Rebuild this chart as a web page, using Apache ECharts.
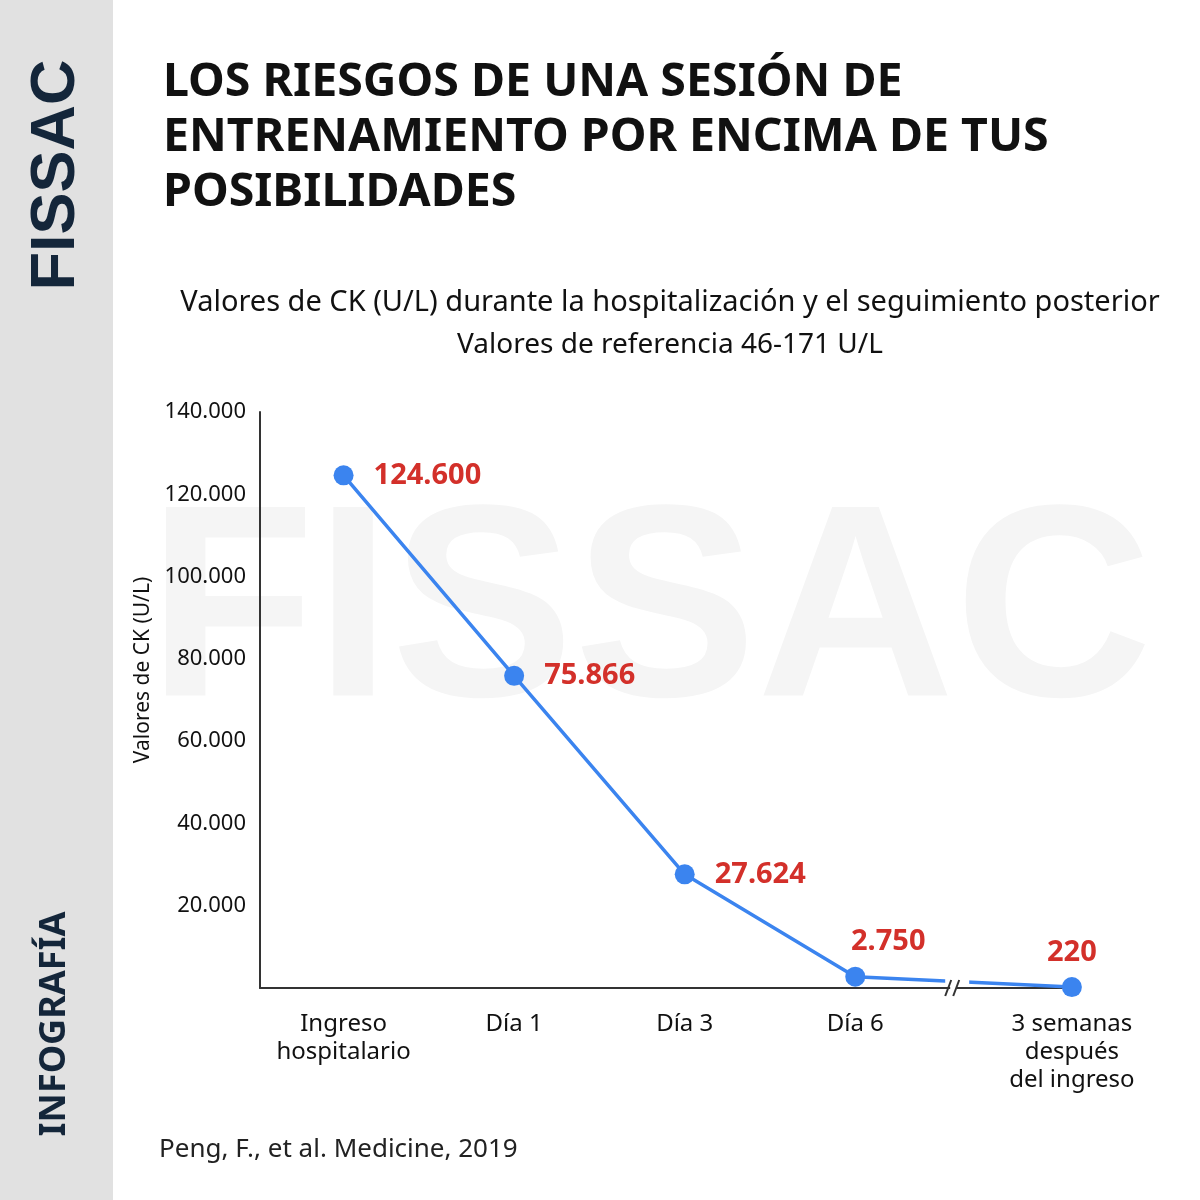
<!DOCTYPE html>
<html>
<head>
<meta charset="utf-8">
<script src="https://cdn.jsdelivr.net/npm/echarts@6/dist/echarts.min.js"></script>
<style>
  html, body { margin: 0; padding: 0; background: #fff; }
  #main { width: 1200px; height: 1200px; }
</style>
</head>
<body>
<div id="main"></div>
<script>
// datos
var categorias = ['Ingreso\nhospitalario', 'Día 1', 'Día 3', 'Día 6', '3 semanas\ndespués\ndel ingreso'];
var posiciones = [0, 1, 2, 3, 4.27];   // hueco extra antes de la última (eje cortado)
var valoresCK = [124600, 75866, 27624, 2750, 220];
var ticksY = [20000, 40000, 60000, 80000, 100000, 120000, 140000];
var posCorte = 3.58;

function miles(v) {
    return String(Math.round(v)).replace(/\B(?=(\d{3})+(?!\d))/g, '.');
}

var myChart = echarts.init(document.getElementById('main'));

var puntos = valoresCK.map(function (v, i) {
    var lab = { position: i < 3 ? 'right' : 'top', distance: i < 3 ? 20 : 10 };
    if (i === 3) lab.offset = [33, 0];
    return { value: [posiciones[i], v], label: lab };
});

var option = {
    animation: false,
    title: [{
        text: 'LOS RIESGOS DE UNA SESIÓN DE\nENTRENAMIENTO POR ENCIMA DE TUS\nPOSIBILIDADES',
        left: 158, top: 50,
        textStyle: { fontFamily: 'Noto Sans', fontWeight: 'bold', fontSize: 46.5, lineHeight: 55, color: '#111' }
    }, {
        text: 'Valores de CK (U/L) durante la hospitalización y el seguimiento posterior',
        left: 665, top: 283, textAlign: 'center',
        textStyle: { fontFamily: 'Noto Sans', fontWeight: 'normal', fontSize: 29, color: '#111' }
    }, {
        text: 'Valores de referencia 46-171 U/L',
        left: 665, top: 326, textAlign: 'center',
        textStyle: { fontFamily: 'Noto Sans', fontWeight: 'normal', fontSize: 28, color: '#111' }
    }],
    grid: { left: 260, right: 123, top: 412, bottom: 212, containLabel: false },
    xAxis: {
        type: 'value',
        min: -0.49, max: 4.3,
        splitLine: { show: false },
        axisTick: { show: false },
        axisLine: { show: true, onZero: false, lineStyle: { color: '#333', width: 2 } },
        axisLabel: {
            customValues: posiciones,
            margin: 22,
            fontFamily: 'Noto Sans', fontSize: 24, lineHeight: 28, color: '#111',
            formatter: function (v) {
                var i = posiciones.indexOf(v);
                return i >= 0 ? categorias[i] : '';
            }
        }
    },
    yAxis: {
        type: 'value',
        min: 0, max: 140000, interval: 20000,
        splitLine: { show: false },
        axisTick: { show: false },
        axisLine: { show: true, onZero: false, lineStyle: { color: '#333', width: 2 } },
        axisLabel: {
            margin: 14,
            fontFamily: 'Noto Sans', fontSize: 22, color: '#111',
            formatter: function (v) { return ticksY.indexOf(v) >= 0 ? miles(v) : ''; }
        }
    },
    series: [{
        type: 'line',
        data: puntos,
        symbol: 'circle', symbolSize: 20,
        lineStyle: { color: '#3b84ef', width: 3.5 },
        itemStyle: { color: '#3b84ef' },
        label: {
            show: true,
            fontFamily: 'Noto Sans', fontWeight: 'bold', fontSize: 29, color: '#d3302a',
            formatter: function (p) { return miles(p.value[1]); }
        },
        z: 5
    }, {
        // marca de corte "//" sobre el eje x y la línea
        type: 'custom',
        silent: true,
        z: 10,
        data: [[posCorte, 0]],
        renderItem: function (params, api) {
            var p = api.coord([api.value(0), api.value(1)]);
            var bx = p[0], by = p[1];
            return {
                type: 'group',
                children: [{
                    type: 'rect', shape: { x: bx - 9, y: by - 22, width: 24, height: 19 },
                    style: { fill: '#fff' }
                }, {
                    type: 'rect', shape: { x: bx - 4, y: by - 3, width: 6, height: 6 },
                    style: { fill: '#fff' }
                }, {
                    type: 'line', shape: { x1: bx - 9, y1: by + 8, x2: bx - 3, y2: by - 8 },
                    style: { stroke: '#333', lineWidth: 2 }
                }, {
                    type: 'line', shape: { x1: bx - 1, y1: by + 8, x2: bx + 5, y2: by - 8 },
                    style: { stroke: '#333', lineWidth: 2 }
                }]
            };
        }
    }],
    graphic: {
        elements: [{
            id: 'banda', type: 'rect', silent: true, z: -10,
            shape: { x: 0, y: 0, width: 113, height: 1200 },
            style: { fill: '#e1e1e1' }
        }, {
            id: 'marca', type: 'text', silent: true, z: -10,
            x: 650, y: 620,
            style: {
                text: 'FISSAC', fill: '#f5f5f5',
                fontFamily: 'Liberation Sans', fontWeight: 'bold', fontSize: 274,
                align: 'center', verticalAlign: 'middle'
            }
        }, {
            id: 'logo', type: 'text', silent: true,
            x: 57, y: 175, rotation: Math.PI / 2,
            style: {
                text: 'FISSAC', fill: '#14263a',
                fontFamily: 'Liberation Sans', fontWeight: 'bold', fontSize: 63,
                align: 'center', verticalAlign: 'middle'
            }
        }, {
            id: 'info', type: 'text', silent: true,
            x: 55, y: 1024, rotation: Math.PI / 2,
            style: {
                text: 'INFOGRAFÍA', fill: '#14263a',
                fontFamily: 'Noto Sans', fontWeight: 'bold', fontSize: 36,
                align: 'center', verticalAlign: 'middle'
            }
        }, {
            id: 'ejeY', type: 'text', silent: true,
            x: 143, y: 670, rotation: Math.PI / 2,
            style: {
                text: 'Valores de CK (U/L)', fill: '#111',
                fontFamily: 'Noto Sans', fontWeight: 'normal', fontSize: 21,
                align: 'center', verticalAlign: 'middle'
            }
        }, {
            id: 'fuente', type: 'text', silent: true,
            x: 159, y: 1150,
            style: {
                text: 'Peng, F., et al. Medicine, 2019', fill: '#222',
                fontFamily: 'Noto Sans', fontWeight: 'normal', fontSize: 26,
                align: 'left', verticalAlign: 'middle'
            }
        }]
    }
};

myChart.setOption(option);
</script>
</body>
</html>
